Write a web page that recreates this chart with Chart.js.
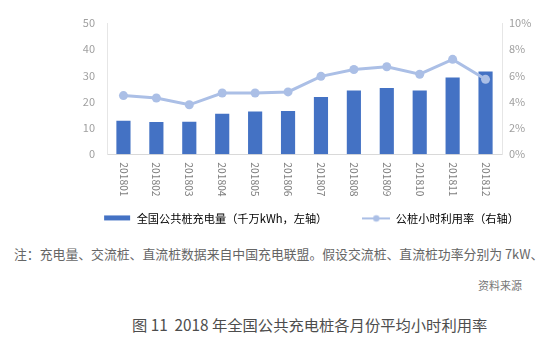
<!DOCTYPE html>
<html>
<head>
<meta charset="utf-8">
<script src="https://cdn.jsdelivr.net/npm/chart.js@4.4.1/dist/chart.umd.min.js"></script>
<style>
  body { margin: 0; background: #fff; font-family: "Noto Sans CJK SC", sans-serif; }
  #wrap { position: relative; width: 537px; height: 339px; overflow: hidden; }
  #chart { position: absolute; left: 0; top: 0; }
  .note { position: absolute; left: 14px; top: 245px; font-size: 12.85px; line-height: 18px; color: #666; white-space: nowrap; }
  .src { position: absolute; right: 15px; top: 278px; font-size: 11px; line-height: 14px; color: #777; }
  .title { position: absolute; left: 132px; top: 314px; font-size: 15.3px; line-height: 20px; color: #4d4d4d; white-space: nowrap; }
</style>
</head>
<body>
<div id="wrap">
  <canvas id="chart" width="537" height="234"></canvas>
  <div class="note">注：充电量、交流桩、直流桩数据来自中国充电联盟。假设交流桩、直流桩功率分别为 7kW、</div>
  <div class="src">资料来源</div>
  <div class="title">图 11&nbsp;&nbsp;2018 年全国公共充电桩各月份平均小时利用率</div>
</div>
<script>
// data
const months = ['201801', '201802', '201803', '201804', '201805', '201806',
                '201807', '201808', '201809', '201810', '201811', '201812'];
const chargeVolume = [12.8, 12.3, 12.4, 15.4, 16.3, 16.5, 21.8, 24.3, 25.2, 24.3, 29.2, 31.5]; // 千万kWh
const utilization = [4.47, 4.29, 3.77, 4.67, 4.67, 4.75, 5.94, 6.46, 6.67, 6.10, 7.23, 5.71];   // %
const seriesNames = ['全国公共桩充电量（千万kWh，左轴）', '公桩小时利用率（右轴）'];

const barColor = '#4472c4';
const lineColor = '#abbfe6';
const FONT = '"Noto Sans CJK SC", sans-serif';

// legend swatches
function makeSwatch(kind) {
  const c = document.createElement('canvas');
  c.width = 28; c.height = 10;
  const g = c.getContext('2d');
  if (kind === 'bar') {
    g.fillStyle = barColor;
    g.fillRect(1, 2, 26, 5);
  } else {
    g.strokeStyle = lineColor;
    g.lineWidth = 2;
    g.beginPath(); g.moveTo(0, 5); g.lineTo(28, 5); g.stroke();
    g.fillStyle = lineColor;
    g.beginPath(); g.arc(14, 5, 3.2, 0, Math.PI * 2); g.fill();
  }
  return c;
}

// x labels read top to bottom
const verticalLabels = {
  id: 'verticalLabels',
  afterDraw(chart) {
    const x = chart.scales.x;
    const ctx = chart.ctx;
    ctx.save();
    ctx.font = '10.3px ' + FONT;
    ctx.fillStyle = '#7f7f7f';
    ctx.textAlign = 'left';
    ctx.textBaseline = 'middle';
    months.forEach((m, i) => {
      ctx.save();
      ctx.translate(x.getPixelForValue(i), x.top + 8);
      ctx.rotate(Math.PI / 2);
      ctx.fillText(m, 0, 0);
      ctx.restore();
    });
    ctx.restore();
  }
};

new Chart(document.getElementById('chart'), {
  type: 'bar',
  data: {
    labels: months,
    datasets: [
      {
        type: 'bar',
        label: seriesNames[0],
        data: chargeVolume,
        backgroundColor: barColor,
        yAxisID: 'y',
        categoryPercentage: 1,
        barPercentage: 0.43,
        order: 1
      },
      {
        type: 'line',
        label: seriesNames[1],
        data: utilization,
        borderColor: lineColor,
        backgroundColor: lineColor,
        borderWidth: 3,
        pointRadius: 4.5,
        pointBorderWidth: 0,
        pointBackgroundColor: lineColor,
        tension: 0,
        yAxisID: 'y1',
        order: 0
      }
    ]
  },
  options: {
    responsive: false,
    animation: false,
    // negative right padding keeps the legend on one row and centred like the original
    layout: { padding: { top: 23, left: 64, right: -21, bottom: 0 } },
    plugins: {
      tooltip: { enabled: false },
      legend: {
        position: 'bottom',
        labels: {
          usePointStyle: true,
          pointStyleWidth: 28,
          padding: 35,
          color: '#595959',
          font: { family: FONT, size: 11.2 },
          generateLabels: () => [
            { text: seriesNames[0], pointStyle: makeSwatch('bar'), fillStyle: barColor, lineWidth: 0, hidden: false, datasetIndex: 0 },
            { text: seriesNames[1], pointStyle: makeSwatch('line'), fillStyle: lineColor, lineWidth: 0, hidden: false, datasetIndex: 1 }
          ]
        }
      }
    },
    scales: {
      x: {
        grid: { display: false },
        border: { color: '#d9d9d9' },
        ticks: { display: false },
        afterFit: (s) => { s.height = 23.5; }
      },
      y: {
        position: 'left',
        min: 0, max: 50,
        ticks: { stepSize: 10, padding: 12, color: '#a0a0a0', font: { family: FONT, size: 11 } },
        grid: { display: false, drawTicks: false },
        border: { color: '#e6e6e6' },
        afterFit: (s) => { s.width = 43; }
      },
      y1: {
        position: 'right',
        min: 0, max: 10,
        ticks: { stepSize: 2, padding: 7, color: '#a0a0a0', font: { family: FONT, size: 11 }, callback: (v) => v + '%' },
        grid: { display: false, drawTicks: false },
        border: { color: '#e6e6e6' },
        afterFit: (s) => { s.width = 56; }
      }
    }
  },
  plugins: [verticalLabels]
});
</script>
</body>
</html>
